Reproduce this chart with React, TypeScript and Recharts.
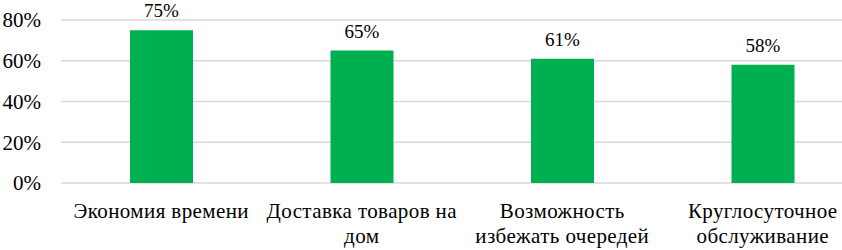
import React from "react";
import { BarChart, Bar, XAxis, YAxis, CartesianGrid, LabelList } from "recharts";

const categories = [
  "Экономия времени",
  "Доставка товаров на\nдом",
  "Возможность\nизбежать очередей",
  "Круглосуточное\nобслуживание",
];
const shares = [75, 65, 61, 58];
const yTicks = [0, 20, 40, 60, 80];

const data = categories.map((name, i) => ({ name, value: shares[i] }));

const FONT = '"Liberation Serif", "Times New Roman", serif';

const CategoryTick = (props: any) => {
  const { x, y, payload } = props;
  const lines = String(payload.value).split("\n");
  return (
    <text x={x} y={y} textAnchor="middle" style={{ fontFamily: FONT, fontSize: 21, letterSpacing: 0.4 }} fill="#000">
      {lines.map((l, i) => (
        <tspan key={i} x={x} dy={i === 0 ? 27 : 25}>
          {l}
        </tspan>
      ))}
    </text>
  );
};

export default function App() {
  return (
    <div style={{ position: "absolute", left: 0, top: 0, width: 842, height: 250, overflow: "hidden", background: "#fff" }}>
      <BarChart
        width={863}
        height={250}
        data={data}
        margin={{ top: 20, right: 0, bottom: 0, left: 0 }}
      >
        <CartesianGrid vertical={false} stroke="#D9D9D9" strokeWidth={1.5} />
        <XAxis
          dataKey="name"
          axisLine={false}
          tickLine={false}
          height={67}
          interval={0}
          tick={<CategoryTick />}
        />
        <YAxis
          width={61}
          domain={[0, 80]}
          ticks={yTicks}
          axisLine={false}
          tickLine={false}
          tickSize={0}
          tickMargin={20}
          tickFormatter={(v: number) => `${v}%`}
          tick={{ style: { fontFamily: FONT, fontSize: 21 }, fill: "#000" }}
        />
        <Bar dataKey="value" fill="#00B050" barSize={63} isAnimationActive={false}>
          <LabelList
            dataKey="value"
            position="top"
            offset={13}
            formatter={(v: any) => `${v}%`}
            style={{ fontFamily: FONT, fontSize: 19, fill: "#000" }}
          />
        </Bar>
      </BarChart>
    </div>
  );
}
